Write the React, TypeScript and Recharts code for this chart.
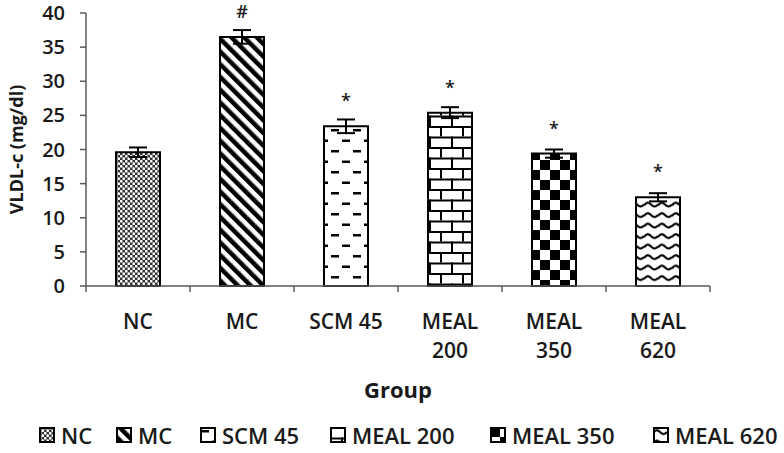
import React from 'react'
import { BarChart, Bar, Cell, ErrorBar, LabelList, XAxis, YAxis, Legend } from 'recharts'

const groups = ['NC', 'MC', 'SCM 45', 'MEAL 200', 'MEAL 350', 'MEAL 620']
const vldl = [19.6, 36.5, 23.4, 25.4, 19.4, 13.0]
const sem = [0.7, 1.0, 1.0, 0.8, 0.6, 0.6]
const marks = ['', '#', '*', '*', '*', '*']
const yTicks = [0, 5, 10, 15, 20, 25, 30, 35, 40]
const patternIds = ['pat-dots', 'pat-diag', 'pat-dash', 'pat-brick', 'pat-check', 'pat-wave']

const data = groups.map((g, i) => ({ name: g, value: vldl[i], err: sem[i], mark: marks[i] }))

const FONT = "'Open Sans', sans-serif"
const TEXT = '#1a1a1a'
const AXIS = '#595959'
const BAND = (784 - 86 - 74) / groups.length
// left edge of each legend entry
const legendX = [39, 116, 200, 330, 490, 653]

const Patterns = () => (
    <svg width={0} height={0} style={{ position: 'absolute' }}>
        <defs>
            <pattern id="pat-dots" width={5} height={5} patternUnits="userSpaceOnUse">
                <rect width={5} height={5} fill="#333" />
                <circle cx={1.25} cy={1.25} r={1.4} fill="#fff" />
                <circle cx={3.75} cy={3.75} r={1.4} fill="#fff" />
            </pattern>
            <pattern id="pat-diag" width={9} height={9} patternUnits="userSpaceOnUse" patternTransform="rotate(-45)">
                <rect width={9} height={9} fill="#fff" />
                <rect width={4.5} height={9} fill="#000" />
            </pattern>
            <pattern id="pat-dash" width={22} height={21} patternUnits="userSpaceOnUse">
                <rect width={22} height={21} fill="#fff" />
                <rect x={1} y={3} width={8} height={2.5} fill="#000" />
                <rect x={12} y={13.5} width={8} height={2.5} fill="#000" />
            </pattern>
            <pattern id="pat-brick" width={22} height={21} patternUnits="userSpaceOnUse">
                <rect width={22} height={21} fill="#fff" />
                <rect x={0} y={0} width={22} height={2} fill="#000" />
                <rect x={0} y={10.5} width={22} height={2} fill="#000" />
                <rect x={0} y={0} width={2} height={10.5} fill="#000" />
                <rect x={11} y={10.5} width={2} height={10.5} fill="#000" />
            </pattern>
            <pattern id="pat-check" width={20} height={20} patternUnits="userSpaceOnUse">
                <rect width={20} height={20} fill="#fff" />
                <rect x={0} y={0} width={10} height={10} fill="#000" />
                <rect x={10} y={10} width={10} height={10} fill="#000" />
            </pattern>
            <pattern id="pat-wave" width={14} height={10.5} patternUnits="userSpaceOnUse">
                <rect width={14} height={10.5} fill="#fff" />
                <path d="M0 6 Q3.5 1 7 5 T14 5" fill="none" stroke="#000" strokeWidth={2} />
            </pattern>
        </defs>
    </svg>
)

const GroupTick = (props: any) => {
    const { x, y, payload, index } = props
    const label: string = payload.value
    const lines = label.length > 6 ? label.split(' ') : [label]
    const top = y - 6
    return (
        <g>
            <line x1={x - BAND / 2} x2={x - BAND / 2} y1={top} y2={top + 6} stroke={AXIS} strokeWidth={1.5} />
            {index === groups.length - 1 && (
                <line x1={x + BAND / 2} x2={x + BAND / 2} y1={top} y2={top + 6} stroke={AXIS} strokeWidth={1.5} />
            )}
            <text x={x} y={top + 43} textAnchor="middle" fill={TEXT} fontFamily={FONT} fontSize={21} fontWeight={600}>
                {lines.map((l, i) => (
                    <tspan key={i} x={x} dy={i === 0 ? 0 : 29}>{l}</tspan>
                ))}
            </text>
        </g>
    )
}

const MarkLabel = (props: any) => {
    const { x, y, width, value } = props
    if (!value) return null
    return (
        <text x={x + width / 2} y={y - 19} textAnchor="middle" fill={TEXT} fontFamily={FONT} fontSize={18} fontWeight={600}>
            {value}
        </text>
    )
}

const LegendBox = () => (
    <div style={{ position: 'relative', height: 36, whiteSpace: 'nowrap', fontFamily: FONT, fontSize: 22, fontWeight: 600, color: TEXT }}>
        {groups.map((g, i) => (
            <div key={g} style={{ position: 'absolute', left: legendX[i], top: 0, height: 36, display: 'flex', alignItems: 'center', gap: 6 }}>
                <svg width={16} height={16}>
                    <rect x={1} y={1} width={14} height={14} fill={`url(#${patternIds[i]})`} stroke="#000" strokeWidth={2} />
                </svg>
                <span>{g}</span>
            </div>
        ))}
    </div>
)

export default function App() {
    return (
        <div style={{ position: 'absolute', left: 0, top: 0, width: 784, height: 453, background: '#fff' }}>
            <Patterns />
            <BarChart width={784} height={453} data={data} margin={{ top: 13, right: 74, left: 0, bottom: 0 }} barSize={44}>
                <YAxis
                    domain={[0, 40]}
                    ticks={yTicks}
                    width={86}
                    axisLine={{ stroke: AXIS, strokeWidth: 1.5 }}
                    tickLine={{ stroke: AXIS, strokeWidth: 1.5 }}
                    tickSize={6}
                    tickMargin={15}
                    tick={{ fill: TEXT, fontFamily: FONT, fontSize: 20, fontWeight: 600 }}
                    label={{
                        content: (p: any) => {
                            const vb = p.viewBox
                            const cy = vb.y + vb.height / 2
                            return (
                                <text x={16} y={cy} transform={`rotate(-90, 16, ${cy})`} textAnchor="middle" dominantBaseline="central" fill={TEXT} fontFamily={FONT} fontSize={18} fontWeight={700}>
                                    VLDL-c (mg/dl)
                                </text>
                            )
                        },
                    }}
                />
                <XAxis
                    dataKey="name"
                    height={131}
                    interval={0}
                    axisLine={{ stroke: AXIS, strokeWidth: 1.5 }}
                    tickLine={false}
                    tickSize={6}
                    tickMargin={0}
                    tick={<GroupTick />}
                    label={{
                        content: (p: any) => {
                            const vb = p.viewBox
                            return (
                                <text x={vb.x + vb.width / 2} y={vb.y + 112} textAnchor="middle" fill={TEXT} fontFamily={FONT} fontSize={22} fontWeight={700}>
                                    Group
                                </text>
                            )
                        },
                    }}
                />
                <Legend verticalAlign="bottom" height={36} content={() => <LegendBox />} wrapperStyle={{ width: 784, left: 0 }} />
                <Bar dataKey="value" isAnimationActive={false}>
                    {data.map((d, i) => (
                        <Cell key={d.name} fill={`url(#${patternIds[i]})`} stroke="#000" strokeWidth={2} />
                    ))}
                    <ErrorBar dataKey="err" width={9} stroke="#000" strokeWidth={2} />
                    <LabelList dataKey="mark" content={<MarkLabel />} />
                </Bar>
            </BarChart>
        </div>
    )
}
